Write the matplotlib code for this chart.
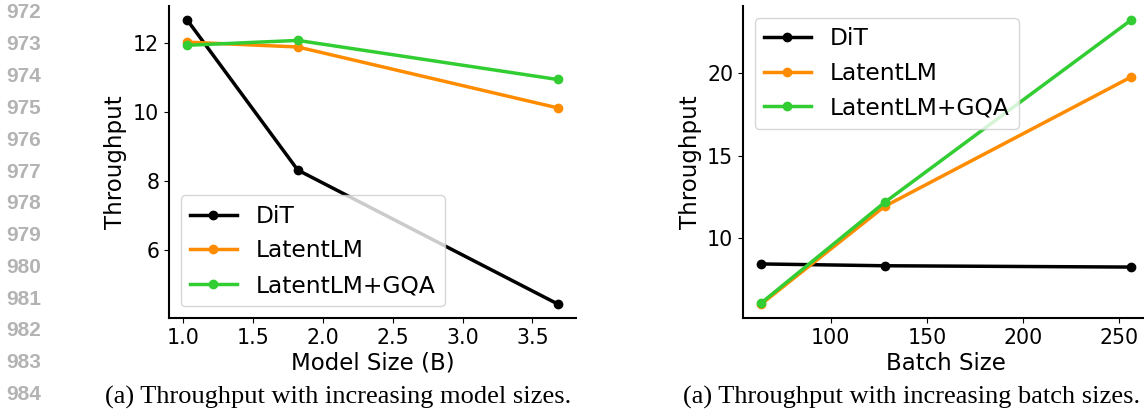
import matplotlib
matplotlib.use('Agg')
import matplotlib.pyplot as plt

# данные: размер модели
model_size = [1.03, 1.82, 3.68]
dit_model = [12.65, 8.32, 4.45]
latent_model = [12.02, 11.88, 10.12]
gqa_model = [11.93, 12.07, 10.94]

# данные: размер батча
batch_size = [64, 128, 256]
dit_batch = [8.41, 8.30, 8.22]
latent_batch = [5.98, 11.91, 19.77]
gqa_batch = [6.05, 12.15, 23.23]

names = ['DiT', 'LatentLM', 'LatentLM+GQA']
colors = ['black', 'darkorange', 'limegreen']
line_numbers = list(range(972, 985))

fig = plt.figure(figsize=(11.44, 4.12), dpi=100)

ax1 = fig.add_axes([0.1477, 0.228, 0.3558, 0.757])
ax2 = fig.add_axes([0.6495, 0.228, 0.3550, 0.757])

for ax, xs, series in [(ax1, model_size, [dit_model, latent_model, gqa_model]),
                       (ax2, batch_size, [dit_batch, latent_batch, gqa_batch])]:
    for ys, name, c in zip(series, names, colors):
        ax.plot(xs, ys, 'o-', color=c, label=name, lw=2.5, ms=6)
    ax.spines['top'].set_visible(False)
    ax.spines['right'].set_visible(False)
    ax.spines['left'].set_linewidth(1.5)
    ax.spines['bottom'].set_linewidth(1.5)
    ax.tick_params(labelsize=14.8)
    ax.set_ylabel('Throughput', fontsize=16.5)

ax1.set_xlabel('Model Size (B)', fontsize=16.5, labelpad=3)
ax2.set_xlabel('Batch Size', fontsize=16.5, labelpad=3)
ax1.legend(loc='lower left', fontsize=16.8)
ax2.legend(loc='upper left', fontsize=16.8)

# подписи
fig.text(105 / 1144, 1 - 397 / 412, '(a) Throughput with increasing model sizes.',
         family='Liberation Serif', fontsize=19, va='center', ha='left')
fig.text(683 / 1144, 1 - 397 / 412, '(a) Throughput with increasing batch sizes.',
         family='Liberation Serif', fontsize=19, va='center', ha='left')

# номера строк
for k, n in enumerate(line_numbers):
    fig.text(6 / 1144, 1 - (13 + k * 31.8) / 412, str(n), color='#b3b3b3',
             family='Liberation Sans', weight='bold', fontsize=15, va='center', ha='left')

fig.savefig('out.png', dpi=100)
